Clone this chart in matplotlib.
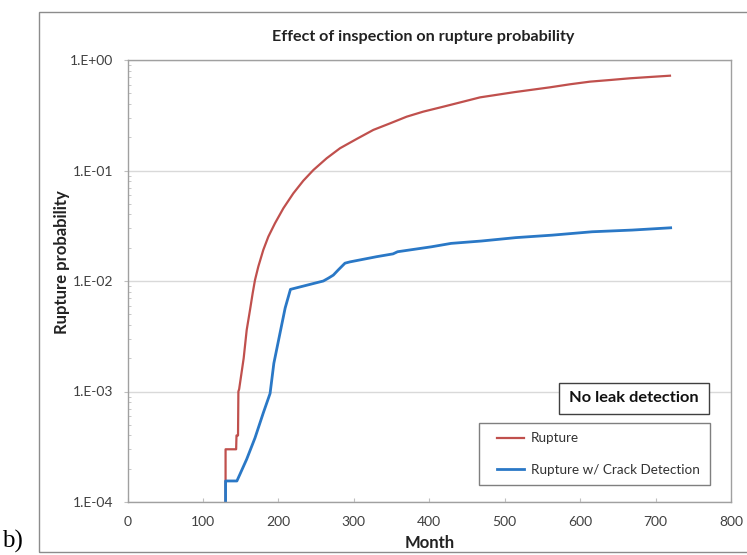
import matplotlib
matplotlib.use("Agg")
import matplotlib.pyplot as plt
from matplotlib.patches import Rectangle
from matplotlib.ticker import FixedLocator, LogLocator, NullFormatter

plt.rcParams['font.family'] = ['Lato', 'DejaVu Sans']

# ---- data ----
title = "Effect of inspection on rupture probability"
xlabel = "Month"
ylabel = "Rupture probability"
series_names = ["Rupture", "Rupture w/ Crack Detection"]

rupture_month = [130, 130, 144, 144.5, 146.5, 147, 148, 154, 158, 162.4, 165.9, 169.0,
                 173.4, 180.0, 186.7, 195.5, 206.6, 219.8, 233.1, 246.4, 264.0, 281.7,
                 303.8, 325.9, 348.0, 370.1, 392.1, 418.6, 445.1, 467.3, 513, 560.1,
                 586.6, 613.1, 639.6, 666.1, 692.6, 719.1]
rupture_prob = [1e-4, 3.0e-4, 3.0e-4, 4.0e-4, 4.0e-4, 1.0e-3, 1.05e-3, 2.0e-3, 3.6e-3,
                5.47e-3, 7.73e-3, 1.02e-2, 1.35e-2, 1.91e-2, 2.52e-2, 3.33e-2, 4.55e-2,
                6.21e-2, 8.09e-2, 0.101, 0.129, 0.159, 0.193, 0.233, 0.267, 0.307,
                0.341, 0.378, 0.420, 0.459, 0.512, 0.566, 0.603, 0.637, 0.659, 0.683,
                0.702, 0.721]

crack_month = [130, 130, 145, 149, 158, 169, 180, 189, 194, 203, 209, 216, 259.6, 266.2,
               272.8, 279.4, 288.3, 295, 330.3, 352, 358, 403, 429, 469, 515, 563, 616,
               669, 720]
crack_prob = [1e-4, 1.55e-4, 1.55e-4, 1.78e-4, 2.44e-4, 3.8e-4, 6.4e-4, 9.6e-4, 1.8e-3,
              3.6e-3, 5.7e-3, 8.4e-3, 1.0e-2, 1.06e-2, 1.13e-2, 1.26e-2, 1.45e-2,
              1.49e-2, 1.66e-2, 1.76e-2, 1.84e-2, 2.04e-2, 2.19e-2, 2.30e-2, 2.47e-2,
              2.60e-2, 2.79e-2, 2.89e-2, 3.03e-2]

x_ticks = [0, 100, 200, 300, 400, 500, 600, 700, 800]
y_ticks = [1e-4, 1e-3, 1e-2, 1e-1, 1e0]
y_ticklabels = ["1.E-04", "1.E-03", "1.E-02", "1.E-01", "1.E+00"]
annotation = "No leak detection"
panel_label = "b)"

# ---- figure ----
W, H = 747, 555
fig = plt.figure(figsize=(W / 100, H / 100), dpi=100)
L, R, T, B = 127.5, 731, 60, 502
ax = fig.add_axes([L / W, 1 - B / H, (R - L) / W, (B - T) / H])


def ax_x(px):
    return (px - L) / (R - L)


def ax_y(py):
    return (B - py) / (B - T)


red = '#C0504D'
blue = '#2A78C6'
ax.plot(rupture_month, rupture_prob, color=red, lw=1.6, label=series_names[0],
        solid_joinstyle='round')
ax.plot(crack_month, crack_prob, color=blue, lw=2.0, label=series_names[1],
        solid_joinstyle='round')

ax.set_yscale('log')
ax.set_xlim(0, 800)
ax.set_ylim(1e-4, 1)
ax.xaxis.set_major_locator(FixedLocator(x_ticks))
ax.yaxis.set_major_locator(FixedLocator(y_ticks))
ax.set_yticklabels(y_ticklabels)
ax.yaxis.set_minor_locator(LogLocator(base=10, subs=range(2, 10)))
ax.yaxis.set_minor_formatter(NullFormatter())

ax.grid(axis='y', which='major', color='#D9D9D9', lw=1.0)
ax.set_axisbelow(True)
for s in ax.spines.values():
    s.set_color('#A0A0A0')
    s.set_linewidth(1.0)

ax.tick_params(axis='x', direction='in', length=3, color='#BFBFBF', pad=10,
               labelsize=10, labelcolor='#404040')
ax.tick_params(axis='y', which='major', direction='out', length=3, color='#BFBFBF',
               pad=7.5, labelsize=10, labelcolor='#404040')
ax.tick_params(axis='y', which='minor', direction='in', length=2.5, color='#BFBFBF')

ax.set_xlabel(xlabel, fontsize=12, fontweight='bold', color='#222222', va='center')
ax.xaxis.set_label_coords(ax_x(430), ax_y(542.7))
ax.set_ylabel(ylabel, fontsize=12, fontweight='bold', color='#222222', va='center',
              ha='center')
ax.yaxis.set_label_coords(ax_x(62), ax_y(262))

fig.text(423 / W, 1 - 36.7 / H, title, ha='center', va='center', fontsize=11.6,
         fontweight='bold', color='#222222')

# legend (frame drawn separately)
lx0, lx1, ly0, ly1 = 479, 710, 423, 485
ax.add_patch(Rectangle((ax_x(lx0), ax_y(ly1)), ax_x(lx1) - ax_x(lx0),
                       ax_y(ly0) - ax_y(ly1), transform=ax.transAxes,
                       facecolor='white', edgecolor='#7F7F7F', lw=1.0, zorder=5))
leg = ax.legend(loc='center left', bbox_to_anchor=(ax_x(lx0 + 18), ax_y((ly0 + ly1) / 2)),
                borderaxespad=0, borderpad=0, fontsize=9.7, frameon=False,
                handlelength=2.0, handletextpad=0.5, labelspacing=1.45)
leg.set_zorder(6)
for t in leg.get_texts():
    t.set_color('#333333')

# "No leak detection" box
bx0, bx1, by0, by1 = 559, 709, 383, 414
ax.add_patch(Rectangle((ax_x(bx0), ax_y(by1)), ax_x(bx1) - ax_x(bx0),
                       ax_y(by0) - ax_y(by1), transform=ax.transAxes,
                       facecolor='white', edgecolor='#404040', lw=1.0, zorder=5))
ax.text(ax_x((bx0 + bx1) / 2), ax_y((by0 + by1) / 2), annotation,
        transform=ax.transAxes, ha='center', va='center', fontsize=11.8,
        fontweight='bold', color='#111111', zorder=6)

# outer frame
fig.patches.append(Rectangle((39 / W, 1 - 552 / H), 1.2, (552 - 12) / H,
                             transform=fig.transFigure, facecolor='none',
                             edgecolor='#8C8C8C', lw=1.0))

fig.text(2 / W, 1 - 541 / H, panel_label, ha='left', va='center', fontsize=18,
         family=['Liberation Serif', 'DejaVu Serif'], color='black')

fig.savefig('out.png', dpi=100)
